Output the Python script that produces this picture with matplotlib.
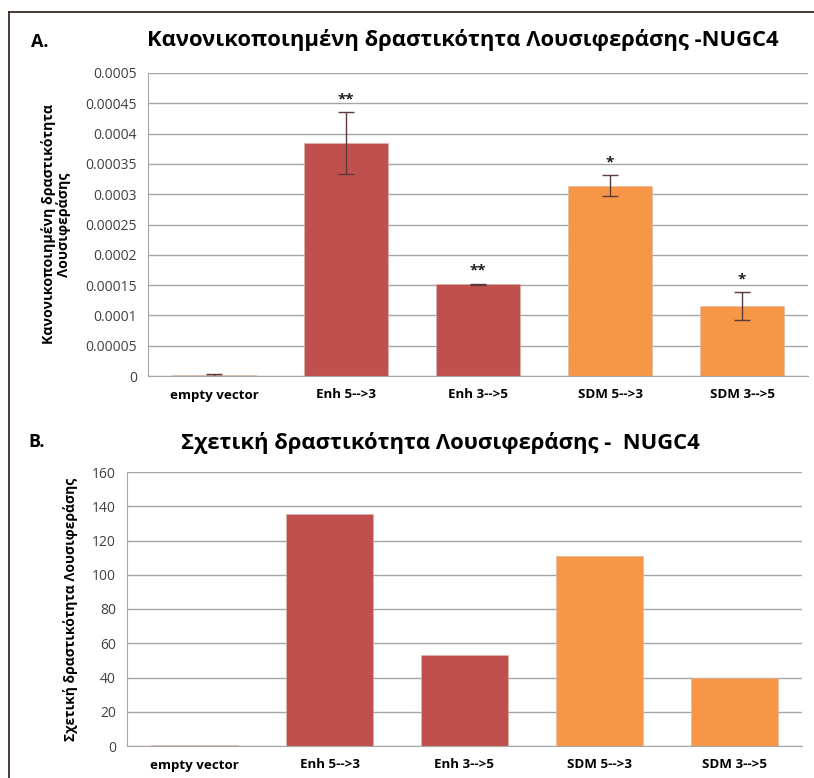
import numpy as np
import matplotlib
matplotlib.use('Agg')
import matplotlib.pyplot as plt
from matplotlib.lines import Line2D

plt.rcParams['font.family'] = ['Open Sans', 'DejaVu Sans']

# data
constructs = ['empty vector', 'Enh 5-->3', 'Enh 3-->5', 'SDM 5-->3', 'SDM 3-->5']
norm_activity = [0.000002, 0.000384, 0.000151, 0.000314, 0.000115]
norm_err = [0.0000015, 0.000051, 0.0000015, 0.000017, 0.000023]
signif = ['', '**', '**', '*', '*']
rel_activity = [0.7, 135.5, 53.0, 111.0, 40.0]

bar_colors = ['#E8A680', '#C0504D', '#C0504D', '#F79646', '#F79646']
grid_col = '#A6A6A6'

W, H = 814, 778
fig = plt.figure(figsize=(W / 100, H / 100), dpi=100)

def px_axes(x0, y0, x1, y1):
    # axes from pixel box (top-left origin)
    return fig.add_axes([x0 / W, 1 - y1 / H, (x1 - x0) / W, (y1 - y0) / H])

def style(ax, ymax, step, fmt):
    ax.set_xlim(-0.5, len(constructs) - 0.5)
    ax.set_ylim(0, ymax)
    ticks = np.arange(0, ymax + step / 2, step)
    ax.set_yticks(ticks)
    ax.set_yticklabels([fmt(t) for t in ticks], fontsize=10, color='#404040')
    ax.set_xticks(range(len(constructs)))
    ax.set_xticklabels(constructs, fontsize=9.6, fontweight='bold')
    ax.tick_params(axis='x', length=0, pad=9)
    ax.tick_params(axis='y', length=0, pad=8)
    ax.grid(axis='y', color=grid_col, lw=1)
    ax.set_axisbelow(True)
    for s in ('top', 'right'):
        ax.spines[s].set_visible(False)
    ax.spines['left'].set_color(grid_col)
    ax.spines['bottom'].set_color(grid_col)

x = np.arange(len(constructs))

# A. normalised luciferase activity
ax1 = px_axes(148, 73, 808, 376)
ax1.bar(x, norm_activity, width=0.64, color=bar_colors, edgecolor='#D9B8A8', lw=0.4)
ax1.errorbar(x, norm_activity, yerr=norm_err, fmt='none', ecolor='#5a3a3a',
             elinewidth=1, capsize=6, capthick=1)
for xi, v, e, s in zip(x, norm_activity, norm_err, signif):
    if s:
        ax1.text(xi, v + e + 0.00001, s, ha='center', va='bottom',
                 fontsize=11, fontweight='bold', color='#202020')

def fmt_small(t):
    if t == 0:
        return '0'
    return ('%.5f' % t).rstrip('0')

style(ax1, 0.0005, 0.00005, fmt_small)
ax1.set_ylabel('Κανονικοποιημένη δραστικότητα\nΛουσιφεράσης', fontsize=10.2,
               fontweight='bold', labelpad=10, linespacing=1.05)
fig.text(463 / W, 1 - 40 / H, 'Κανονικοποιημένη δραστικότητα Λουσιφεράσης -NUGC4',
         ha='center', va='center', fontsize=15.8, fontweight='bold')
fig.text(31 / W, 1 - 42 / H, 'A.', ha='left', va='center', fontsize=13, fontweight='bold')

# B. relative luciferase activity
ax2 = px_axes(127, 472, 802, 746)
ax2.bar(x, rel_activity, width=0.64, color=bar_colors, edgecolor='#D9B8A8', lw=0.4)
style(ax2, 160, 20, lambda t: '%d' % t)
ax2.set_ylabel('Σχετική δραστικότητα Λουσιφεράσης', fontsize=10,
               fontweight='bold', labelpad=10)
fig.text(440 / W, 1 - 443 / H, 'Σχετική δραστικότητα Λουσιφεράσης -  NUGC4',
         ha='center', va='center', fontsize=15.8, fontweight='bold')
fig.text(28 / W, 1 - 442 / H, 'B.', ha='left', va='center', fontsize=13, fontweight='bold')

# outer frame (top and left edges)
frame_col = '#3b2b22'
fig.add_artist(Line2D([9 / W, 1], [1 - 12 / H, 1 - 12 / H], color=frame_col, lw=1.3))
fig.add_artist(Line2D([9 / W, 9 / W], [0, 1 - 12 / H], color=frame_col, lw=1.3))

fig.savefig('out.png', dpi=100)
